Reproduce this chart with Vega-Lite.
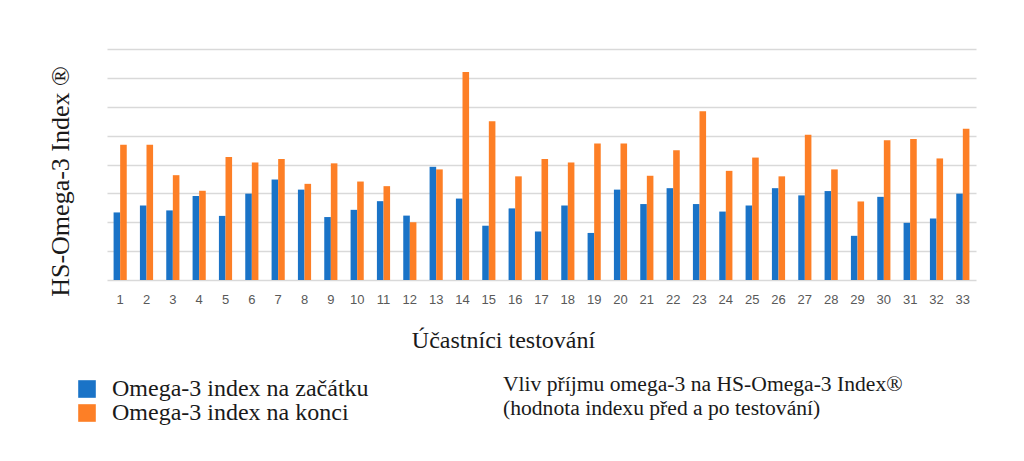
{
  "$schema": "https://vega.github.io/schema/vega-lite/v6.json",
  "width": 869,
  "height": 231,
  "autosize": {"type": "none"},
  "padding": {"left": 107, "top": 49, "right": 48, "bottom": 181},
  "background": "white",
  "title": {
    "text": ["Vliv příjmu omega-3 na HS-Omega-3 Index®", "(hodnota indexu před a po testování)"],
    "orient": "top",
    "anchor": "start",
    "frame": "group",
    "baseline": "top",
    "offset": 0,
    "dx": 396,
    "dy": 371,
    "font": "Liberation Serif",
    "fontSize": 21.6,
    "fontWeight": "normal",
    "color": "#1a1a1a",
    "lineHeight": 24
  },
  "data": {
    "values": [
      {"p": 1, "s": "Omega-3 index na začátku", "v": 2.34}, {"p": 1, "s": "Omega-3 index na konci", "v": 4.68},
      {"p": 2, "s": "Omega-3 index na začátku", "v": 2.58}, {"p": 2, "s": "Omega-3 index na konci", "v": 4.68},
      {"p": 3, "s": "Omega-3 index na začátku", "v": 2.41}, {"p": 3, "s": "Omega-3 index na konci", "v": 3.63},
      {"p": 4, "s": "Omega-3 index na začátku", "v": 2.91}, {"p": 4, "s": "Omega-3 index na konci", "v": 3.09},
      {"p": 5, "s": "Omega-3 index na začátku", "v": 2.22}, {"p": 5, "s": "Omega-3 index na konci", "v": 4.26},
      {"p": 6, "s": "Omega-3 index na začátku", "v": 2.99}, {"p": 6, "s": "Omega-3 index na konci", "v": 4.07},
      {"p": 7, "s": "Omega-3 index na začátku", "v": 3.48}, {"p": 7, "s": "Omega-3 index na konci", "v": 4.19},
      {"p": 8, "s": "Omega-3 index na začátku", "v": 3.13}, {"p": 8, "s": "Omega-3 index na konci", "v": 3.33},
      {"p": 9, "s": "Omega-3 index na začátku", "v": 2.18}, {"p": 9, "s": "Omega-3 index na konci", "v": 4.04},
      {"p": 10, "s": "Omega-3 index na začátku", "v": 2.43}, {"p": 10, "s": "Omega-3 index na konci", "v": 3.41},
      {"p": 11, "s": "Omega-3 index na začátku", "v": 2.73}, {"p": 11, "s": "Omega-3 index na konci", "v": 3.25},
      {"p": 12, "s": "Omega-3 index na začátku", "v": 2.23}, {"p": 12, "s": "Omega-3 index na konci", "v": 2.0},
      {"p": 13, "s": "Omega-3 index na začátku", "v": 3.92}, {"p": 13, "s": "Omega-3 index na konci", "v": 3.83},
      {"p": 14, "s": "Omega-3 index na začátku", "v": 2.82}, {"p": 14, "s": "Omega-3 index na konci", "v": 7.2},
      {"p": 15, "s": "Omega-3 index na začátku", "v": 1.88}, {"p": 15, "s": "Omega-3 index na konci", "v": 5.5},
      {"p": 16, "s": "Omega-3 index na začátku", "v": 2.48}, {"p": 16, "s": "Omega-3 index na konci", "v": 3.59},
      {"p": 17, "s": "Omega-3 index na začátku", "v": 1.68}, {"p": 17, "s": "Omega-3 index na konci", "v": 4.19},
      {"p": 18, "s": "Omega-3 index na začátku", "v": 2.58}, {"p": 18, "s": "Omega-3 index na konci", "v": 4.07},
      {"p": 19, "s": "Omega-3 index na začátku", "v": 1.63}, {"p": 19, "s": "Omega-3 index na konci", "v": 4.73},
      {"p": 20, "s": "Omega-3 index na začátku", "v": 3.13}, {"p": 20, "s": "Omega-3 index na konci", "v": 4.73},
      {"p": 21, "s": "Omega-3 index na začátku", "v": 2.63}, {"p": 21, "s": "Omega-3 index na konci", "v": 3.61},
      {"p": 22, "s": "Omega-3 index na začátku", "v": 3.18}, {"p": 22, "s": "Omega-3 index na konci", "v": 4.49},
      {"p": 23, "s": "Omega-3 index na začátku", "v": 2.63}, {"p": 23, "s": "Omega-3 index na konci", "v": 5.84},
      {"p": 24, "s": "Omega-3 index na začátku", "v": 2.37}, {"p": 24, "s": "Omega-3 index na konci", "v": 3.78},
      {"p": 25, "s": "Omega-3 index na začátku", "v": 2.58}, {"p": 25, "s": "Omega-3 index na konci", "v": 4.24},
      {"p": 26, "s": "Omega-3 index na začátku", "v": 3.18}, {"p": 26, "s": "Omega-3 index na konci", "v": 3.59},
      {"p": 27, "s": "Omega-3 index na začátku", "v": 2.93}, {"p": 27, "s": "Omega-3 index na konci", "v": 5.03},
      {"p": 28, "s": "Omega-3 index na začátku", "v": 3.08}, {"p": 28, "s": "Omega-3 index na konci", "v": 3.83},
      {"p": 29, "s": "Omega-3 index na začátku", "v": 1.53}, {"p": 29, "s": "Omega-3 index na konci", "v": 2.72},
      {"p": 30, "s": "Omega-3 index na začátku", "v": 2.88}, {"p": 30, "s": "Omega-3 index na konci", "v": 4.84},
      {"p": 31, "s": "Omega-3 index na začátku", "v": 1.98}, {"p": 31, "s": "Omega-3 index na konci", "v": 4.88},
      {"p": 32, "s": "Omega-3 index na začátku", "v": 2.13}, {"p": 32, "s": "Omega-3 index na konci", "v": 4.21},
      {"p": 33, "s": "Omega-3 index na začátku", "v": 2.99}, {"p": 33, "s": "Omega-3 index na konci", "v": 5.24}
    ]
  },
  "mark": {"type": "bar"},
  "encoding": {
    "x": {
      "field": "p",
      "type": "ordinal",
      "scale": {"paddingInner": 0.5, "paddingOuter": 0.25},
      "axis": {
        "title": "Účastníci testování",
        "titleFont": "Liberation Serif",
        "titleFontSize": 24,
        "titleFontWeight": "normal",
        "titleColor": "#1a1a1a",
        "titleX": 396,
        "titleY": 60,
        "titleAnchor": null,
        "titleAlign": "center",
        "titleBaseline": "middle",
        "labelAngle": 0,
        "labelFont": "Liberation Sans",
        "labelFontSize": 13,
        "labelColor": "#595959",
        "labelPadding": 13,
        "ticks": false,
        "domain": false
      }
    },
    "xOffset": {
      "field": "s",
      "type": "nominal",
      "sort": ["Omega-3 index na začátku", "Omega-3 index na konci"]
    },
    "y": {
      "field": "v",
      "type": "quantitative",
      "scale": {"domain": [0, 8]},
      "axis": {
        "values": [0, 1, 2, 3, 4, 5, 6, 7, 8],
        "labels": false,
        "ticks": false,
        "domain": false,
        "grid": true,
        "gridColor": "#d9d9d9",
        "gridWidth": 1.5,
        "title": "HS-Omega-3 Index ®",
        "titleFont": "Liberation Serif",
        "titleFontSize": 26,
        "titleFontWeight": "normal",
        "titleColor": "#1a1a1a",
        "titleX": -47,
        "titleY": 132,
        "titleAngle": 270,
        "titleAlign": "center",
        "titleBaseline": "middle"
      }
    },
    "color": {
      "field": "s",
      "type": "nominal",
      "sort": ["Omega-3 index na začátku", "Omega-3 index na konci"],
      "scale": {
        "domain": ["Omega-3 index na začátku", "Omega-3 index na konci"],
        "range": ["#1a73c7", "#fd7f26"]
      },
      "legend": {
        "title": null,
        "orient": "none",
        "legendX": -32,
        "legendY": 328,
        "symbolType": "square",
        "symbolSize": 310,
        "symbolStrokeWidth": 0,
        "symbolOpacity": 1,
        "labelFont": "Liberation Serif",
        "labelFontSize": 24,
        "labelColor": "#1a1a1a",
        "labelOffset": 13,
        "rowPadding": 0,
        "labelLimit": 400
      }
    }
  },
  "config": {
    "view": {"stroke": null}
  }
}
